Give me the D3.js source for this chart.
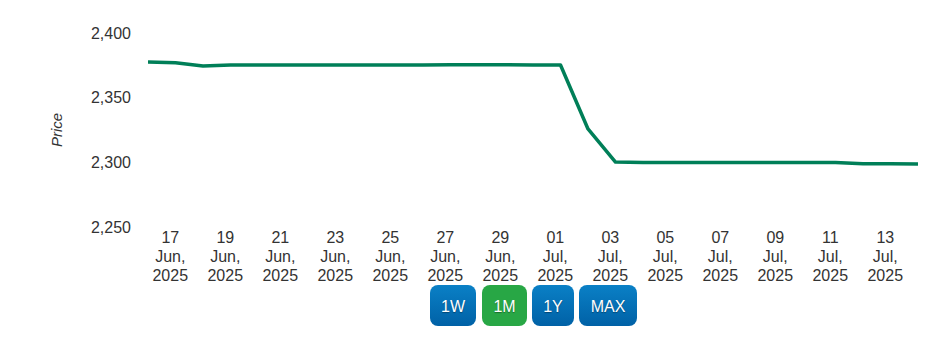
<!DOCTYPE html>
<html>
<head>
<meta charset="utf-8">
<script src="https://cdn.jsdelivr.net/npm/d3@7"></script>
<style>
  body { margin: 0; background: #fff; }
  svg { display: block; font-family: "Liberation Sans", Arial, sans-serif; }
</style>
</head>
<body>
<div id="chart"></div>
<script>
//daily prices (one point per day, 16 Jun - 14 Jul 2025)
var days = ["2025-06-16","2025-06-17","2025-06-18","2025-06-19","2025-06-20","2025-06-21","2025-06-22",
  "2025-06-23","2025-06-24","2025-06-25","2025-06-26","2025-06-27","2025-06-28","2025-06-29","2025-06-30",
  "2025-07-01","2025-07-02","2025-07-03","2025-07-04","2025-07-05","2025-07-06","2025-07-07","2025-07-08",
  "2025-07-09","2025-07-10","2025-07-11","2025-07-12","2025-07-13","2025-07-14"];
var prices = [2377.5, 2377.0, 2374.5, 2375.3, 2375.3, 2375.3, 2375.3,
  2375.3, 2375.3, 2375.3, 2375.3, 2375.4, 2375.4, 2375.4, 2375.3,
  2375.3, 2325.8, 2300.2, 2299.8, 2299.8, 2299.8, 2299.8, 2299.8,
  2299.8, 2299.8, 2299.8, 2299.0, 2298.9, 2298.8];

var yTicks = [2250, 2300, 2350, 2400];
var xTicks = ["2025-06-17","2025-06-19","2025-06-21","2025-06-23","2025-06-25","2025-06-27","2025-06-29",
  "2025-07-01","2025-07-03","2025-07-05","2025-07-07","2025-07-09","2025-07-11","2025-07-13"];
var buttons = ["1W", "1M", "1Y", "MAX"];
var selectedButton = "1M";

var width = 928;
var height = 337;

//data points sit at 05:00 each day, ticks at midnight
var parseDay = d3.utcParse("%Y-%m-%d");
var data = days.map(function (d, i) {
  return { date: d3.utcHour.offset(parseDay(d), 5), price: prices[i] };
});

var svg = d3.select("#chart").append("svg")
  .attr("width", width)
  .attr("height", height);

var x = d3.scaleUtc()
  .domain([data[0].date, data[data.length - 1].date])
  .range([148, 918]);

var y = d3.scaleLinear()
  .domain([2250, 2400])
  .range([227, 33]);

/*----------------------
AXES
----------------------*/
var yAxis = svg.append("g")
  .attr("transform", "translate(135,0)")
  .call(d3.axisLeft(y).tickValues(yTicks).tickSize(0).tickPadding(4).tickFormat(d3.format(",")));
yAxis.select(".domain").remove();
yAxis.selectAll("text")
  .attr("font-size", 16)
  .attr("fill", "#333")
  .attr("font-family", "Liberation Sans, Arial, sans-serif");

var xAxis = svg.append("g")
  .attr("transform", "translate(0,227)")
  .call(d3.axisBottom(x).tickValues(xTicks.map(parseDay)).tickSize(0));
xAxis.select(".domain").remove();

var fmtDay = d3.utcFormat("%d");
var fmtMon = d3.utcFormat("%b,");
var fmtYear = d3.utcFormat("%Y");
xAxis.selectAll(".tick text").each(function (d) {
  var t = d3.select(this).text(null)
    .attr("dy", null)
    .attr("y", null)
    .attr("font-size", 16)
    .attr("fill", "#333")
    .attr("font-family", "Liberation Sans, Arial, sans-serif");
  t.append("tspan").attr("x", 0).attr("y", 16).text(fmtDay(d));
  t.append("tspan").attr("x", 0).attr("y", 35).text(fmtMon(d));
  t.append("tspan").attr("x", 0).attr("y", 54).text(fmtYear(d));
});

//axis title
svg.append("text")
  .attr("transform", "translate(62,130) rotate(-90)")
  .attr("text-anchor", "middle")
  .attr("font-size", 15)
  .attr("font-style", "italic")
  .attr("fill", "#333")
  .text("Price");

/*----------------------
LINE
----------------------*/
var line = d3.line()
  .x(function (d) { return x(d.date); })
  .y(function (d) { return y(d.price); });

svg.append("path")
  .datum(data)
  .attr("d", line)
  .attr("fill", "none")
  .attr("stroke", "#007f58")
  .attr("stroke-width", 3.5)
  .attr("stroke-linejoin", "round");

/*----------------------
RANGE BUTTONS
----------------------*/
var defs = svg.append("defs");
var grad = defs.append("linearGradient")
  .attr("id", "btnBlue")
  .attr("x1", 0).attr("y1", 0).attr("x2", 0).attr("y2", 1);
grad.append("stop").attr("offset", "0%").attr("stop-color", "#0a80c6");
grad.append("stop").attr("offset", "100%").attr("stop-color", "#0061a6");

var btnWidths = [46, 45, 42, 58];
var btnX = [430, 482, 532, 579];

var btn = svg.selectAll(".btn")
  .data(buttons)
  .enter().append("g")
  .attr("class", "btn")
  .attr("transform", function (d, i) { return "translate(" + btnX[i] + ",285)"; });

btn.append("rect")
  .attr("width", function (d, i) { return btnWidths[i]; })
  .attr("height", 41)
  .attr("rx", 8)
  .attr("fill", function (d) { return d == selectedButton ? "#28a745" : "url(#btnBlue)"; });

btn.append("text")
  .attr("x", function (d, i) { return btnWidths[i] / 2; })
  .attr("y", 27)
  .attr("text-anchor", "middle")
  .attr("font-size", 16)
  .attr("fill", "#fff")
  .style("text-shadow", "0 1px 1px rgba(0,0,0,0.35)")
  .text(function (d) { return d; });
</script>
</body>
</html>
